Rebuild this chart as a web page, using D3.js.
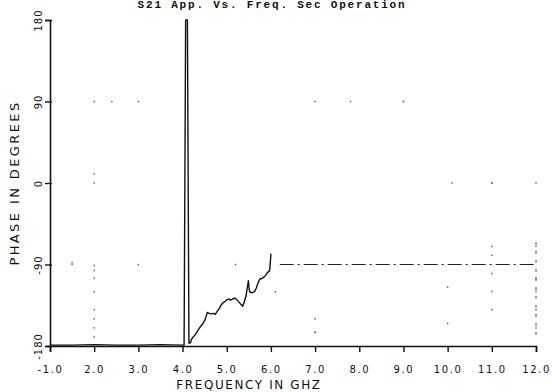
<!DOCTYPE html>
<html>
<head>
<meta charset="utf-8">
<script src="https://cdn.jsdelivr.net/npm/d3@7"></script>
<style>
  html, body { margin: 0; padding: 0; background: #fff; }
  svg { display: block; }
  text { font-family: "DejaVu Sans", "Liberation Sans", sans-serif; fill: #111; }
</style>
</head>
<body>
<svg id="chart" width="552" height="392"></svg>
<script>
// Measured phase versus frequency
const xTicks = [1, 2, 3, 4, 5, 6, 7, 8, 9, 10, 11, 12];
const xTickLabels = ["-1.0", "2.0", "3.0", "4.0", "5.0", "6.0", "7.0", "8.0", "9.0", "10.0", "11.0", "12.0"];
const yTicks = [180, 90, 0, -90, -180];
const yTickLabels = ["180", "90", "0", "-90", "-180"];

// Phase trace: frequency (GHz) and phase (degrees)
const freq = [1.0, 1.5, 2.0, 2.5, 3.0, 3.5, 4.0, 4.035, 4.07, 4.11, 4.145,
  4.16, 4.18, 4.20, 4.24, 4.28, 4.32, 4.36, 4.40, 4.45, 4.50,
  4.53, 4.56, 4.60, 4.64, 4.70, 4.74, 4.78, 4.83, 4.87, 4.92,
  4.96, 5.00, 5.05, 5.09, 5.14, 5.18, 5.22, 5.27, 5.32, 5.36,
  5.40, 5.44, 5.47, 5.49, 5.51, 5.53, 5.58, 5.63, 5.67, 5.71,
  5.75, 5.80, 5.84, 5.88, 5.92, 5.97, 5.98, 5.99, 6.00];
const phase = [-179, -179, -178.5, -179, -179, -178.5, -179, -179, 180, 180, -177,
  -176, -176.5, -173, -170, -168, -165, -162, -159, -156, -152,
  -148, -143, -144, -144.5, -144, -145, -142, -139, -135, -132,
  -131, -129, -128, -129.5, -128, -127, -128.5, -131, -134, -136,
  -131, -124, -114, -108, -118, -121, -121, -120, -116, -110,
  -106, -105.5, -104, -102, -99, -97, -92, -85, -78];

// Reference level drawn dashed across the upper band
const refFreq = [6.2, 12.0];
const refPhase = [-90, -90];

// Faint plotter grid marks
const markFreq = [2.0, 2.4, 2.0, 2.0, 2.0, 2.0, 2.0, 1.5, 3.0, 5.2, 7.0, 9.0, 11.0,
  2.0, 2.0, 9.0, 10.1, 11.0, 11.0, 12.0, 2.0, 7.0, 7.0, 10.0, 10.0, 11.0, 11.0, 11.0, 11.0,
  12.0, 12.0, 12.0, 12.0, 12.0, 3.0, 1.5, 7.8, 7.0, 6.1];
const markPhase = [90, 90, 10, 0, -105, -140, -160, -90, -90, -90, 90, 90, 0,
  -120, -150, 90, 0, 0, -70, 0, -170, -150, -165, -115, -155, -80, -100, -120, -140,
  -70, -105, -120, -140, -160, 90, -88, 90, -165, -120];

const svg = d3.select("#chart");

const x = d3.scaleLinear().domain([1, 12]).range([50, 536]);
const y = d3.scaleLinear().domain([-180, 180]).range([346, 20]);

// Title along the top edge of the sheet
svg.append("text")
  .attr("x", 272).attr("y", 8)
  .attr("text-anchor", "middle")
  .style("font-family", "'Liberation Mono', 'DejaVu Sans Mono', monospace")
  .style("font-weight", "bold")
  .style("font-size", "11px")
  .style("letter-spacing", "1.8px")
  .text("S21 App. Vs. Freq. Sec Operation");

// Grid marks
svg.append("g").selectAll("rect")
  .data(markFreq.map((f, i) => [f, markPhase[i]]))
  .join("rect")
  .attr("x", d => x(d[0]) - 0.7)
  .attr("y", d => y(d[1]) - 0.7)
  .attr("width", 1.4).attr("height", 1.4)
  .attr("fill", "#555");

// Vertical dotted marks
svg.append("line")
  .attr("x1", x(12)).attr("x2", x(12))
  .attr("y1", y(-65)).attr("y2", y(-170))
  .attr("stroke", "#444").attr("stroke-width", 1)
  .attr("stroke-dasharray", "3,6");
svg.append("line")
  .attr("x1", x(2)).attr("x2", x(2))
  .attr("y1", y(-90)).attr("y2", y(-100))
  .attr("stroke", "#444").attr("stroke-width", 1)
  .attr("stroke-dasharray", "2,3");

// Reference dashed level
svg.append("path")
  .datum(refFreq.map((f, i) => [f, refPhase[i]]))
  .attr("d", d3.line().x(d => x(d[0])).y(d => y(d[1])))
  .attr("fill", "none")
  .attr("stroke", "#222").attr("stroke-width", 1.2)
  .attr("stroke-dasharray", "14,4,2,4");

// Axes
const xAxis = d3.axisBottom(x).tickValues(xTicks)
  .tickFormat((d, i) => xTickLabels[i]).tickSize(6).tickPadding(14);
const gx = svg.append("g").attr("transform", `translate(0,${y(-180)})`).call(xAxis);
gx.select(".domain").attr("stroke", "#111").attr("stroke-width", 1.6);
gx.selectAll(".tick line").attr("stroke", "#111").attr("stroke-width", 1.4);
gx.selectAll(".tick text")
  .style("font-size", "10px").style("letter-spacing", "1.6px")
  .attr("fill", "#000");

const yAxis = d3.axisLeft(y).tickValues(yTicks)
  .tickFormat((d, i) => yTickLabels[i]).tickSize(5);
const gy = svg.append("g").attr("transform", `translate(${x(1)},0)`).call(yAxis);
gy.select(".domain").attr("stroke", "#111").attr("stroke-width", 1.6);
gy.selectAll(".tick line").attr("stroke", "#111").attr("stroke-width", 1.4)
  .attr("x2", -5).attr("x1", 2);
gy.selectAll(".tick text").remove();
gy.selectAll(".tick").append("text")
  .attr("transform", "translate(-8,0) rotate(-90)")
  .attr("text-anchor", "middle")
  .style("font-size", "10px").style("letter-spacing", "1px")
  .attr("fill", "#000")
  .text((d, i) => yTickLabels[i]);

// Axis titles
svg.append("text")
  .attr("transform", `translate(19,${y(0)}) rotate(-90)`)
  .attr("text-anchor", "middle")
  .style("font-size", "13px").style("letter-spacing", "2.4px")
  .text("PHASE IN DEGREES");
svg.append("text")
  .attr("x", 249).attr("y", 389)
  .attr("text-anchor", "middle")
  .style("font-size", "12px").style("letter-spacing", "1.6px")
  .text("FREQUENCY IN GHZ");

// Phase trace
svg.append("path")
  .datum(freq.map((f, i) => [f, phase[i]]))
  .attr("d", d3.line().x(d => x(d[0])).y(d => y(d[1])))
  .attr("fill", "none")
  .attr("stroke", "#111").attr("stroke-width", 1.4)
  .attr("stroke-linejoin", "round");
</script>
</body>
</html>
